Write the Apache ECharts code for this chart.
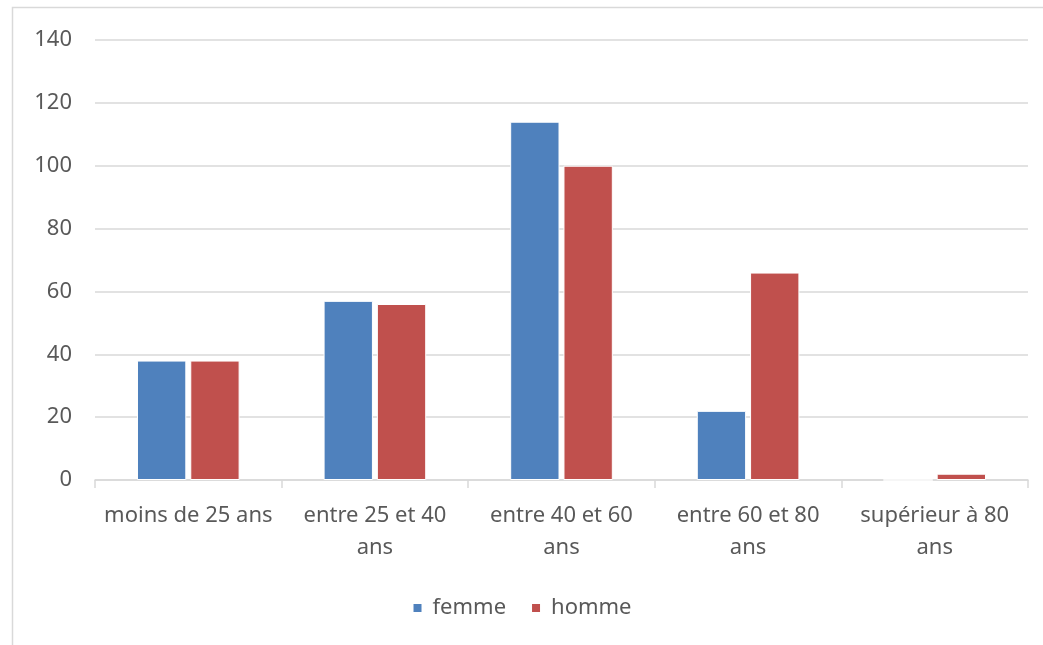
<!DOCTYPE html>
<html><head><meta charset="utf-8">
<script src="https://cdn.jsdelivr.net/npm/echarts@6/dist/echarts.min.js"></script>
<style>html,body{margin:0;padding:0;background:#fff}#c{width:1043px;height:645px}</style>
</head><body><div id="c"></div>
<script>
const categories = ['moins de 25 ans', 'entre 25 et 40\nans', 'entre 40 et 60\nans', 'entre 60 et 80\nans', 'supérieur à 80\nans'];
const femme = [38, 57, 114, 22, 0];
const homme = [38, 56, 100, 66, 2];
const yTicks = { min: 0, max: 140, interval: 20 };

const chart = echarts.init(document.getElementById('c'));
const font = 'Noto Sans';
chart.setOption({
  animation: false,
  graphic: [{ type: 'rect', shape: { x: 12.5, y: 7.5, width: 1040, height: 640 }, style: { fill: 'none', stroke: '#d9d9d9', lineWidth: 1.5 }, silent: true }],
  grid: { left: 95, right: 15, top: 40, bottom: 165 },
  legend: {
    bottom: 21, left: 'center', itemWidth: 10, itemHeight: 10, itemGap: 24,
    icon: 'rect',
    textStyle: { fontFamily: font, fontSize: 22, color: '#595959', padding: [0, 0, 0, 5] },
    data: ['femme', 'homme']
  },
  xAxis: {
    type: 'category', data: categories,
    axisLine: { lineStyle: { color: '#d9d9d9', width: 1.5 } },
    axisTick: { show: true, length: 8, lineStyle: { color: '#d9d9d9', width: 1.5 } },
    axisLabel: { fontFamily: font, fontSize: 22, color: '#595959', margin: 20, lineHeight: 32, interval: 0 }
  },
  yAxis: {
    type: 'value', min: yTicks.min, max: yTicks.max, interval: yTicks.interval,
    axisLine: { show: false }, axisTick: { show: false },
    splitLine: { lineStyle: { color: '#d9d9d9', width: 1.5 } },
    axisLabel: { fontFamily: font, fontSize: 22, color: '#595959', margin: 23 }
  },
  series: [
    { name: 'femme', type: 'bar', data: femme, barGap: '8%', barCategoryGap: '45%',
      itemStyle: { color: '#4F81BD', borderColor: '#fff', borderWidth: 1 } },
    { name: 'homme', type: 'bar', data: homme,
      itemStyle: { color: '#C0504D', borderColor: '#fff', borderWidth: 1 } }
  ]
});
</script></body></html>
